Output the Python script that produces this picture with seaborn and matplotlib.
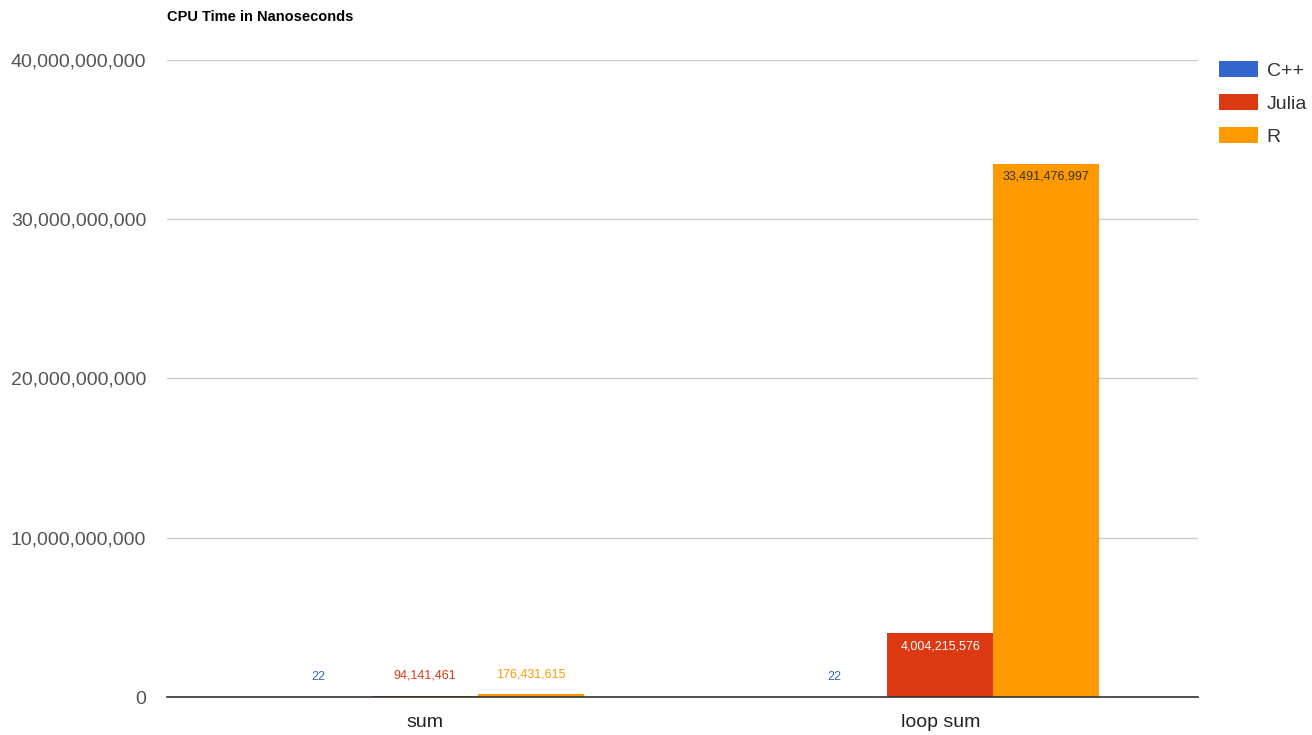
import matplotlib
matplotlib.use("Agg")
import matplotlib.pyplot as plt
import seaborn as sns
import pandas as pd
from matplotlib.patches import Patch
from matplotlib.ticker import FuncFormatter

categories = ["sum", "loop sum"]
languages = ["C++", "Julia", "R"]
cpp_values = [22, 22]
julia_values = [94141461, 4004215576]
r_values = [176431615, 33491476997]
colors = ["#3366CC", "#DC3912", "#FF9900"]
y_ticks = [0, 10_000_000_000, 20_000_000_000, 30_000_000_000, 40_000_000_000]

rows = []
for lang, vals in zip(languages, [cpp_values, julia_values, r_values]):
    for cat, v in zip(categories, vals):
        rows.append({"Test": cat, "Language": lang, "Time": v})
df = pd.DataFrame(rows)

sns.set_theme(style="white")
plt.rcParams["font.family"] = ["Liberation Sans", "DejaVu Sans"]

fig = plt.figure(figsize=(13.12, 7.35), dpi=100)
ax = fig.add_axes([167/1312, 1-697/735, (1198-167)/1312, (697-60)/735])

sns.barplot(data=df, x="Test", y="Time", hue="Language", order=categories,
            hue_order=languages, palette=colors, width=0.617, ax=ax,
            saturation=1, legend=False, linewidth=0, errorbar=None)

ax.set_ylim(0, 40_000_000_000)
ax.set_yticks(y_ticks)
ax.yaxis.set_major_formatter(FuncFormatter(lambda v, p: f"{int(v):,}"))
ax.grid(axis="y", color="#cccccc", linewidth=1)
ax.set_axisbelow(True)
for s in ["left", "right", "top"]:
    ax.spines[s].set_visible(False)
ax.spines["bottom"].set_color("#333333")
ax.spines["bottom"].set_linewidth(1.2)
ax.tick_params(axis="y", labelsize=14, labelcolor="#555555", length=0, pad=15)
ax.tick_params(axis="x", labelsize=14, labelcolor="#222222", length=0, pad=12)
ax.set_xlabel("")
ax.set_ylabel("")

# value labels
threshold = 2_000_000_000
for container, color in zip(ax.containers, colors):
    for bar in container:
        h = bar.get_height()
        x = bar.get_x() + bar.get_width() / 2
        label = f"{int(round(h)):,}"
        if h > threshold:
            tc = "white" if color == "#DC3912" else "#333333"
            ax.annotate(label, (x, h), xytext=(0, -5), textcoords="offset points",
                        ha="center", va="top", fontsize=9, color=tc)
        else:
            ax.annotate(label, (x, h), xytext=(0, 10), textcoords="offset points",
                        ha="center", va="bottom", fontsize=9, color=color)

fig.text(167/1312, 1-17/735, "CPU Time in Nanoseconds", fontsize=10.5,
         fontweight="bold", color="#000000", ha="left", va="center")

handles = [Patch(facecolor=c, edgecolor="none", label=l) for c, l in zip(colors, languages)]
fig.legend(handles=handles, loc="upper left", bbox_to_anchor=(1219/1312, 1-61/735),
           frameon=False, fontsize=14, handlelength=2.0, handleheight=0.87,
           labelspacing=0.75, handletextpad=0.45, borderpad=0, borderaxespad=0,
           labelcolor="#333333")

fig.savefig("out.png", dpi=100, facecolor="white")
